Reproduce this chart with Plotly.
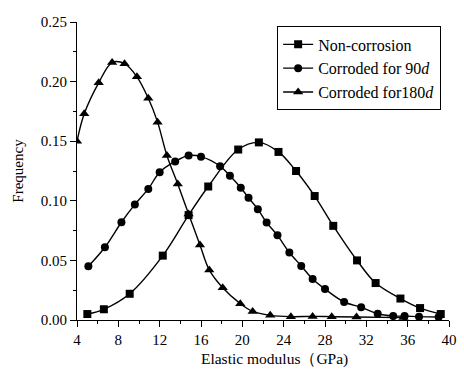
import plotly.graph_objects as go

# Non-corrosion
x_non = [5.0, 6.6, 9.1, 12.3, 14.8, 16.7, 19.6, 21.6, 23.5, 25.2, 27.0, 28.8, 31.1, 32.9, 35.3, 37.2, 39.2]
y_non = [0.005, 0.009, 0.022, 0.054, 0.088, 0.112, 0.143, 0.149, 0.141, 0.125, 0.104, 0.079, 0.050, 0.031, 0.018, 0.010, 0.005]

# Corroded for 90d
x_90 = [5.1, 6.7, 8.3, 9.6, 10.9, 12.0, 13.5, 14.8, 16.0, 17.85, 18.8, 19.85, 20.6, 21.5, 22.35, 23.4, 24.55, 25.7, 26.8, 28.0, 29.85, 31.5, 33.1, 34.6, 35.7, 37.1, 39.0]
y_90 = [0.045, 0.061, 0.082, 0.097, 0.110, 0.124, 0.133, 0.138, 0.137, 0.129, 0.121, 0.111, 0.1025, 0.093, 0.0817, 0.071, 0.0566, 0.0454, 0.0344, 0.026, 0.0151, 0.0107, 0.0052, 0.0033, 0.0033, 0.0028, 0.0025]

# Corroded for 180d
x_180 = [4.0, 4.7, 6.1, 7.4, 8.6, 9.8, 10.9, 11.8, 12.7, 13.75, 14.8, 15.9, 16.8, 18.1, 19.8, 21.0, 22.7, 24.7, 26.8, 28.65, 31.05, 35.6]
y_180 = [0.150, 0.173, 0.199, 0.216, 0.215, 0.204, 0.186, 0.166, 0.138, 0.114, 0.089, 0.063, 0.042, 0.027, 0.0137, 0.0072, 0.0039, 0.0028, 0.003, 0.0028, 0.0025, 0.002]

names = ["Non-corrosion", "Corroded for 90<i>d</i>", "Corroded for180<i>d</i>"]
symbols = ["square", "circle", "triangle-up"]

fig = go.Figure()
for xs, ys, nm, sym in zip([x_non, x_90, x_180], [y_non, y_90, y_180], names, symbols):
    fig.add_trace(go.Scatter(
        x=xs, y=ys, name=nm, mode="lines+markers",
        line=dict(color="black", width=1.4, shape="spline", smoothing=1),
        marker=dict(symbol=sym, size=8 if sym != "triangle-up" else 9, color="black"),
        cliponaxis=True,
    ))

font = "Liberation Serif, Times New Roman, serif"
fig.update_layout(
    width=464, height=372,
    margin=dict(l=77, r=7, t=22, b=45),
    paper_bgcolor="white", plot_bgcolor="white",
    font=dict(family=font, size=15, color="black"),
    showlegend=True,
    legend=dict(
        x=0.538, y=0.985, xanchor="left", yanchor="top",
        bordercolor="black", borderwidth=1, bgcolor="white",
        font=dict(family=font, size=16, color="black"),
        tracegroupgap=0, itemwidth=30,
    ),
    xaxis=dict(
        range=[4, 40], tickmode="array", tickvals=list(range(4, 41, 4)),
        ticks="outside", ticklen=6, tickwidth=1, tickcolor="black",
        ticklabeloverflow="allow",
        showline=True, linecolor="black", linewidth=1, mirror=False,
        showgrid=False, zeroline=False,
        minor=dict(tickvals=list(range(6, 40, 4)), ticks="outside", ticklen=3, tickcolor="black", showgrid=False),
        title=dict(text="&nbsp;&nbsp;&nbsp;&nbsp;&nbsp;&nbsp;Elastic modulus（GPa)", font=dict(family=font, size=15.5), standoff=6),
        tickfont=dict(family=font, size=15),
    ),
    yaxis=dict(
        range=[0, 0.25], tickmode="array", tickvals=[0, 0.05, 0.10, 0.15, 0.20, 0.25],
        ticktext=["0.00", "0.05", "0.10", "0.15", "0.20", "0.25"],
        ticks="outside", ticklen=6, tickwidth=1, tickcolor="black",
        showline=True, linecolor="black", linewidth=1, mirror=False,
        showgrid=False, zeroline=False,
        minor=dict(tickvals=[0.025, 0.075, 0.125, 0.175, 0.225], ticks="outside", ticklen=3, tickcolor="black", showgrid=False),
        title=dict(text="Frequency", font=dict(family=font, size=15), standoff=13),
        tickfont=dict(family=font, size=15),
    ),
)

fig.write_html("out.html")
